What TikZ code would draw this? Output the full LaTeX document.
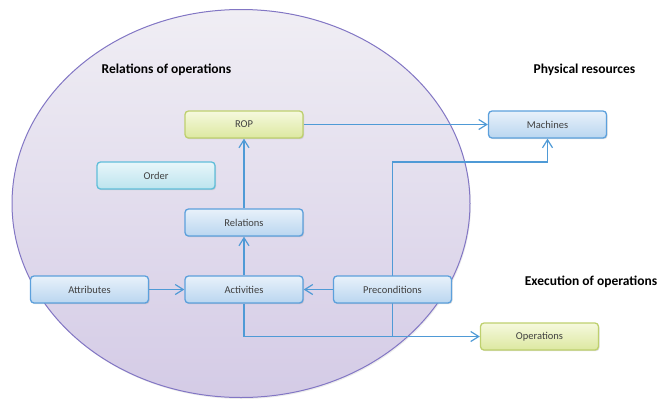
\documentclass[tikz,border=0pt]{standalone}
\usepackage{fontspec}
\setmainfont{Carlito}
\usetikzlibrary{arrows.meta,backgrounds,shadows}
\definecolor{conncol}{RGB}{79,154,214}
\definecolor{blueb}{RGB}{92,160,220}
\definecolor{bluet}{RGB}{232,241,250}
\definecolor{blueB}{RGB}{186,214,240}
\definecolor{greenb}{RGB}{190,208,110}
\definecolor{greent}{RGB}{246,249,222}
\definecolor{greenB}{RGB}{220,232,160}
\definecolor{cyanb}{RGB}{96,190,218}
\definecolor{cyant}{RGB}{232,246,250}
\definecolor{cyanB}{RGB}{188,228,238}
\definecolor{ellb}{RGB}{130,118,196}
\definecolor{ellt}{RGB}{240,238,244}
\definecolor{ellB}{RGB}{212,203,230}
\definecolor{txtcol}{RGB}{64,64,64}
\tikzset{
  box/.style={rounded corners=3.5pt, minimum width=118pt, minimum height=27pt,
    line width=1.3pt, inner sep=0pt, text=txtcol,
    font=\fontsize{10.5}{12}\selectfont,
    drop shadow={opacity=0.25, shadow xshift=1pt, shadow yshift=-1.2pt}},
  bluebox/.style={box, draw=blueb, top color=bluet, bottom color=blueB},
  greenbox/.style={box, draw=greenb, top color=greent, bottom color=greenB},
  cyanbox/.style={box, draw=cyanb, top color=cyant, bottom color=cyanB},
  title/.style={font=\fontsize{13.5}{15}\selectfont\bfseries, text=black, inner sep=0pt},
  conn/.style={draw=conncol, line width=1.2pt, -{Straight Barb[length=8pt,width=10pt,line width=1.2pt]}}
}
\begin{document}
\begin{tikzpicture}[x=1pt,y=-1pt]
\useasboundingbox (0,0) rectangle (661,400);
\node[greenbox] (rop) at (244,124.5) {ROP};
\node[cyanbox] (order) at (156,175.5) {Order};
\node[bluebox] (machines) at (547.5,124.5) {Machines};
\node[bluebox] (relations) at (244,222.5) {Relations};
\node[bluebox] (attributes) at (89.5,289.5) {Attributes};
\node[bluebox] (activities) at (244,289.5) {Activities};
\node[bluebox] (precond) at (392.5,289.5) {Preconditions};
\node[greenbox] (operations) at (539.5,336.5) {Operations};
\node[title] (t1) at (166.5,70) {Relations of operations};
\node[title] (t2) at (584.5,70) {Physical resources};
\node[title] (t3) at (591,282) {Execution of operations};
\coordinate (jn) at (precond.center |- operations.west);
\coordinate (bendy) at (0,162);
\begin{scope}[on background layer]
  \draw[draw=ellb, line width=1pt, top color=ellt, bottom color=ellB,
        drop shadow={opacity=0.15, shadow xshift=1pt, shadow yshift=-1.5pt}] (241,203.5) ellipse [x radius=229, y radius=194];
  \draw[conn] (rop.east) -- (machines.west);
  \draw[conn] (relations.north) -- (rop.south);
  \draw[conn] (activities.north) -- (relations.south);
  \draw[conn] (attributes.east) -- (activities.west);
  \draw[conn] (precond.west) -- (activities.east);
  \draw[conn] (activities.south) |- (operations.west);
  \draw[conn] (jn) -- (jn |- bendy) -| (machines.south);
\end{scope}
\end{tikzpicture}
\end{document}
